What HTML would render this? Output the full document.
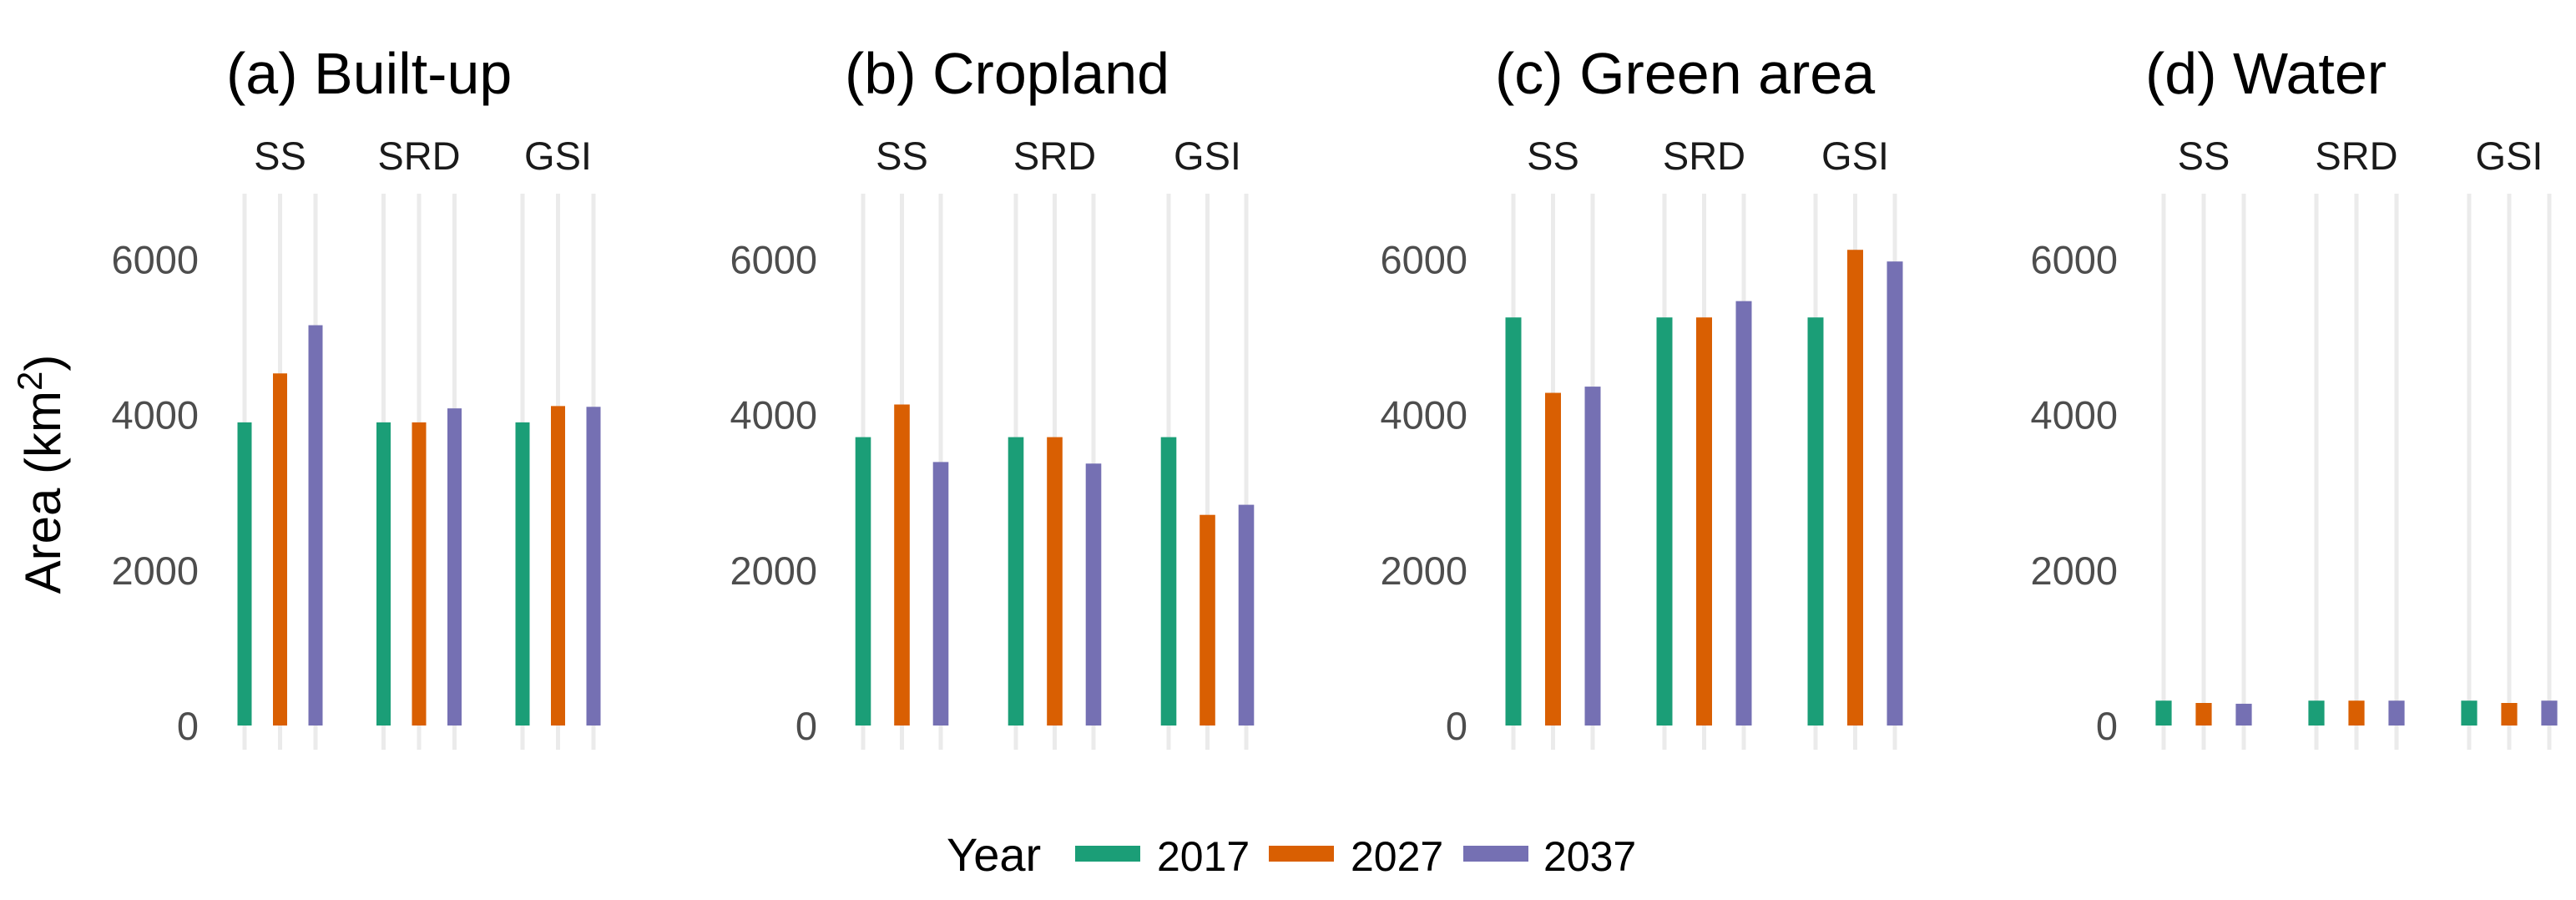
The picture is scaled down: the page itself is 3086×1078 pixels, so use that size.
<!DOCTYPE html>
<html><head><meta charset="utf-8"><style>
html,body{margin:0;padding:0;background:#fff;}
svg{display:block;font-family:"Liberation Sans",Arial,sans-serif;}
</style></head><body>
<svg id="chart" width="3086" height="1078" viewBox="0 0 3086 1078" xmlns="http://www.w3.org/2000/svg">
<rect width="3086" height="1078" fill="#fff"/>
<g id="panels"></g>
<text transform="translate(72,568) rotate(-90)" text-anchor="middle" font-size="60" fill="#000">Area (km<tspan dy="-22" font-size="42">2</tspan><tspan dy="22">)</tspan></text>
<g>
<text x="1134" y="1043" font-size="56" fill="#000">Year</text>
<rect x="1288" y="1013" width="78" height="19" fill="#1b9e77"/>
<text x="1386" y="1043" font-size="50" fill="#000">2017</text>
<rect x="1520" y="1013" width="78" height="19" fill="#d95f02"/>
<text x="1618" y="1043" font-size="50" fill="#000">2027</text>
<rect x="1753" y="1013" width="78" height="19" fill="#7570b3"/>
<text x="1849" y="1043" font-size="50" fill="#000">2037</text>
</g>
</svg>
<script>
const panelTitles = ["(a) Built-up", "(b) Cropland", "(c) Green area", "(d) Water"];
const scenarios = ["SS", "SRD", "GSI"];
const years = ["2017", "2027", "2037"];
const yTicks = [0, 2000, 4000, 6000];
const builtUp = [[3900, 4530, 5150], [3900, 3900, 4080], [3900, 4110, 4100]];
const cropland = [[3710, 4130, 3390], [3710, 3710, 3370], [3710, 2710, 2840]];
const greenArea = [[5250, 4280, 4360], [5250, 5250, 5460], [5250, 6120, 5970]];
const water = [[320, 290, 280], [320, 320, 320], [320, 290, 320]];
const panelValues = [builtUp, cropland, greenArea, water];

const colors = ["#1b9e77", "#d95f02", "#7570b3"];
const layout = [{x0: 293, s: 42.5, gap: 166.5}, {x0: 1034, s: 46.5, gap: 183}, {x0: 1813, s: 47.5, gap: 181}, {x0: 2592, s: 48, gap: 183}];
const NS = "http://www.w3.org/2000/svg";
const Y0 = 869, PX_PER = 93.1 / 1000;
function yScale(v) { return Y0 - v * PX_PER; }
function mk(tag, attrs, parent) {
  const e = document.createElementNS(NS, tag);
  for (const k in attrs) e.setAttribute(k, attrs[k]);
  parent.appendChild(e);
  return e;
}
const root = document.getElementById("panels");
panelValues.forEach((vals, p) => {
  const L = layout[p];
  const xScale = (g, j) => L.x0 + L.s * j + g * L.gap;
  const g = mk("g", {}, root);
  
  
  const t = mk("text", {x: L.x0 - 22, y: 112, "font-size": 70, fill: "#000"}, g);
  t.textContent = panelTitles[p];
  
  
  yTicks.forEach(v => {
    const tl = mk("text", {x: L.x0 - 55, y: yScale(v) + 17, "text-anchor": "end", "font-size": 47, fill: "#4d4d4d"}, g);
    tl.textContent = v;
    
    
  });
  scenarios.forEach((sc, gi) => {
    const st = mk("text", {x: xScale(gi, 1), y: 203, "text-anchor": "middle", "font-size": 47, fill: "#1a1a1a"}, g);
    st.textContent = sc;
    
    
    years.forEach((yr, j) => {
      const x = xScale(gi, j);
      const gl = mk("line", {x1: x, x2: x, y1: 232, y2: 898, stroke: "#ebebeb", "stroke-width": 5}, g);
      
      
    });
    years.forEach((yr, j) => {
      const x = xScale(gi, j);
      const v = vals[gi][j];
      const w = L.s * 0.4;
      const b = mk("rect", {x: x - w / 2, y: yScale(v), width: w, height: Y0 - yScale(v), fill: colors[j]}, g);
      
      
    });
  });
});
</script>
</body></html>
